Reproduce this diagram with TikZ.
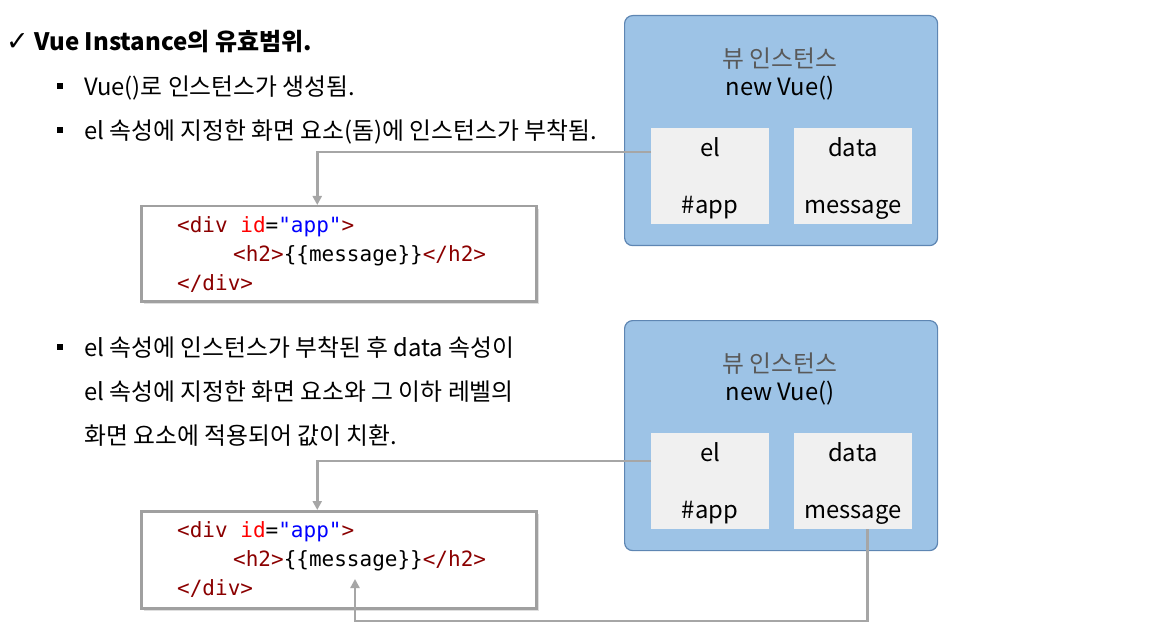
\documentclass[tikz,border=0pt]{standalone}
\usepackage{fontspec}
\setmainfont{Noto Sans CJK KR}
\newfontfamily\symfont{DejaVu Sans}
\newfontfamily\codefont{DejaVu Sans Mono}
\usetikzlibrary{arrows.meta}
\definecolor{instfill}{HTML}{9DC3E6}
\definecolor{instdraw}{HTML}{5E86B3}
\definecolor{slotfill}{HTML}{F0F0F0}
\definecolor{conncol}{HTML}{A6A6A6}
\definecolor{codeframe}{HTML}{A0A0A0}
\definecolor{tagcol}{HTML}{8B0000}
\definecolor{attrcol}{HTML}{FF0000}
\definecolor{strcol}{HTML}{0000FF}
\definecolor{titlegray}{HTML}{595959}
\tikzset{
  txt/.style={inner sep=0pt, font=\fontsize{23.8}{28}\selectfont, text height=0.8em, text depth=0.22em},
  ttl/.style={inner sep=0pt, font=\bfseries\fontsize{24}{28}\selectfont, text height=0.8em, text depth=0.22em},
  code/.style={inner sep=0pt, font=\codefont\fontsize{21}{24}\selectfont, text height=0.75em, text depth=0.22em, anchor=west},
  instbox/.style={draw=instdraw, line width=1.2pt, fill=instfill, rounded corners=8pt},
  slot/.style={fill=slotfill, draw=none},
  codebox/.style={draw=codeframe, line width=2.5pt, fill=white},
  conn/.style={draw=conncol, line width=2.6pt, -{Triangle[length=9pt,width=9pt]}},
  bullet/.style={fill=black, draw=none, minimum size=6.5pt, inner sep=0pt}
}
\newcommand{\tg}[1]{\textcolor{tagcol}{#1}}
\begin{document}
\begin{tikzpicture}[x=1pt,y=-1pt]
\useasboundingbox (0,0) rectangle (1173,631);
% title
\node[ttl, anchor=west] (title) at (6,48) {{\symfont\mdseries\fontsize{27}{30}\selectfont ✓}\hspace{6pt}Vue Instance의 유효범위.};
% bullets section 1
\node[bullet] (b1) at (60,86) {};
\node[txt, anchor=west] (t1) at (84,93) {Vue()로 인스턴스가 생성됨.};
\node[bullet] (b2) at (60,130) {};
\node[txt, anchor=west] (t2) at (84,137) {el 속성에 지정한 화면 요소(돔)에 인스턴스가 부착됨.};
% code box 1
\fill[gray!25] (144,209) rectangle (539,304);
\node[codebox, minimum width=395pt, minimum height=95pt, anchor=north west] (code1) at (140,205) {};
\node[code] (c1a) at (177,230) {\tg{<div} \textcolor{attrcol}{id}=\textcolor{strcol}{"app"}\tg{>}};
\node[code] (c1b) at (233,259) {\tg{<h2>}\{\{message\}\}\tg{</h2>}};
\node[code] (c1c) at (177,288) {\tg{</div>}};
% instance box 1
\node[instbox, minimum width=313pt, minimum height=230pt, anchor=north west] (inst1) at (624,15) {};
\node[txt, text=titlegray] (it1) at (780,65) {뷰 인스턴스};
\node[txt] (in1) at (780,93) {new Vue()};
\node[slot, minimum width=118pt, minimum height=96pt, anchor=north west] (el1) at (651,128) {};
\node[slot, minimum width=118pt, minimum height=96pt, anchor=north west] (data1) at (794,128) {};
\node[txt] (el1a) at (710,154) {el};
\node[txt] (el1b) at (710,211) {\#app};
\node[txt] (data1a) at (853,154) {data};
\node[txt] (data1b) at (853,211) {message};
\draw[conn] ([yshift=-24pt]el1.north west) -| ([xshift=-21.5pt]code1.north);
% section 2 text
\node[bullet] (b3) at (60,347) {};
\node[txt, anchor=west] (t3) at (84,354) {el 속성에 인스턴스가 부착된 후 data 속성이};
\node[txt, anchor=west] (t4) at (84,398) {el 속성에 지정한 화면 요소와 그 이하 레벨의};
\node[txt, anchor=west] (t5) at (84,442) {화면 요소에 적용되어 값이 치환.};
% instance box 2
\node[instbox, minimum width=313pt, minimum height=230pt, anchor=north west] (inst2) at (624,320) {};
\node[txt, text=titlegray] (it2) at (780,370) {뷰 인스턴스};
\node[txt] (in2) at (780,398) {new Vue()};
\node[slot, minimum width=118pt, minimum height=96pt, anchor=north west] (el2) at (651,433) {};
\node[slot, minimum width=118pt, minimum height=96pt, anchor=north west] (data2) at (794,433) {};
\node[txt] (el2a) at (710,459) {el};
\node[txt] (el2b) at (710,516) {\#app};
\node[txt] (data2a) at (853,459) {data};
\node[txt] (data2b) at (853,516) {message};
% code box 2
\fill[gray!25] (144,514) rectangle (539,611);
\node[codebox, minimum width=395pt, minimum height=97pt, anchor=north west] (code2) at (140,510) {};
\node[code] (c2a) at (177,535) {\tg{<div} \textcolor{attrcol}{id}=\textcolor{strcol}{"app"}\tg{>}};
\node[code] (c2b) at (233,564) {\tg{<h2>}\{\{message\}\}\tg{</h2>}};
\node[code] (c2c) at (177,593) {\tg{</div>}};
\coordinate (low) at (355,621);
\coordinate (tip) at (355,579);
\draw[conn] ([yshift=-28pt]el2.north west) -| ([xshift=-21.5pt]code2.north);
\draw[conn] ([xshift=14pt]data2.south) |- (low) -- (tip);
\end{tikzpicture}
\end{document}
